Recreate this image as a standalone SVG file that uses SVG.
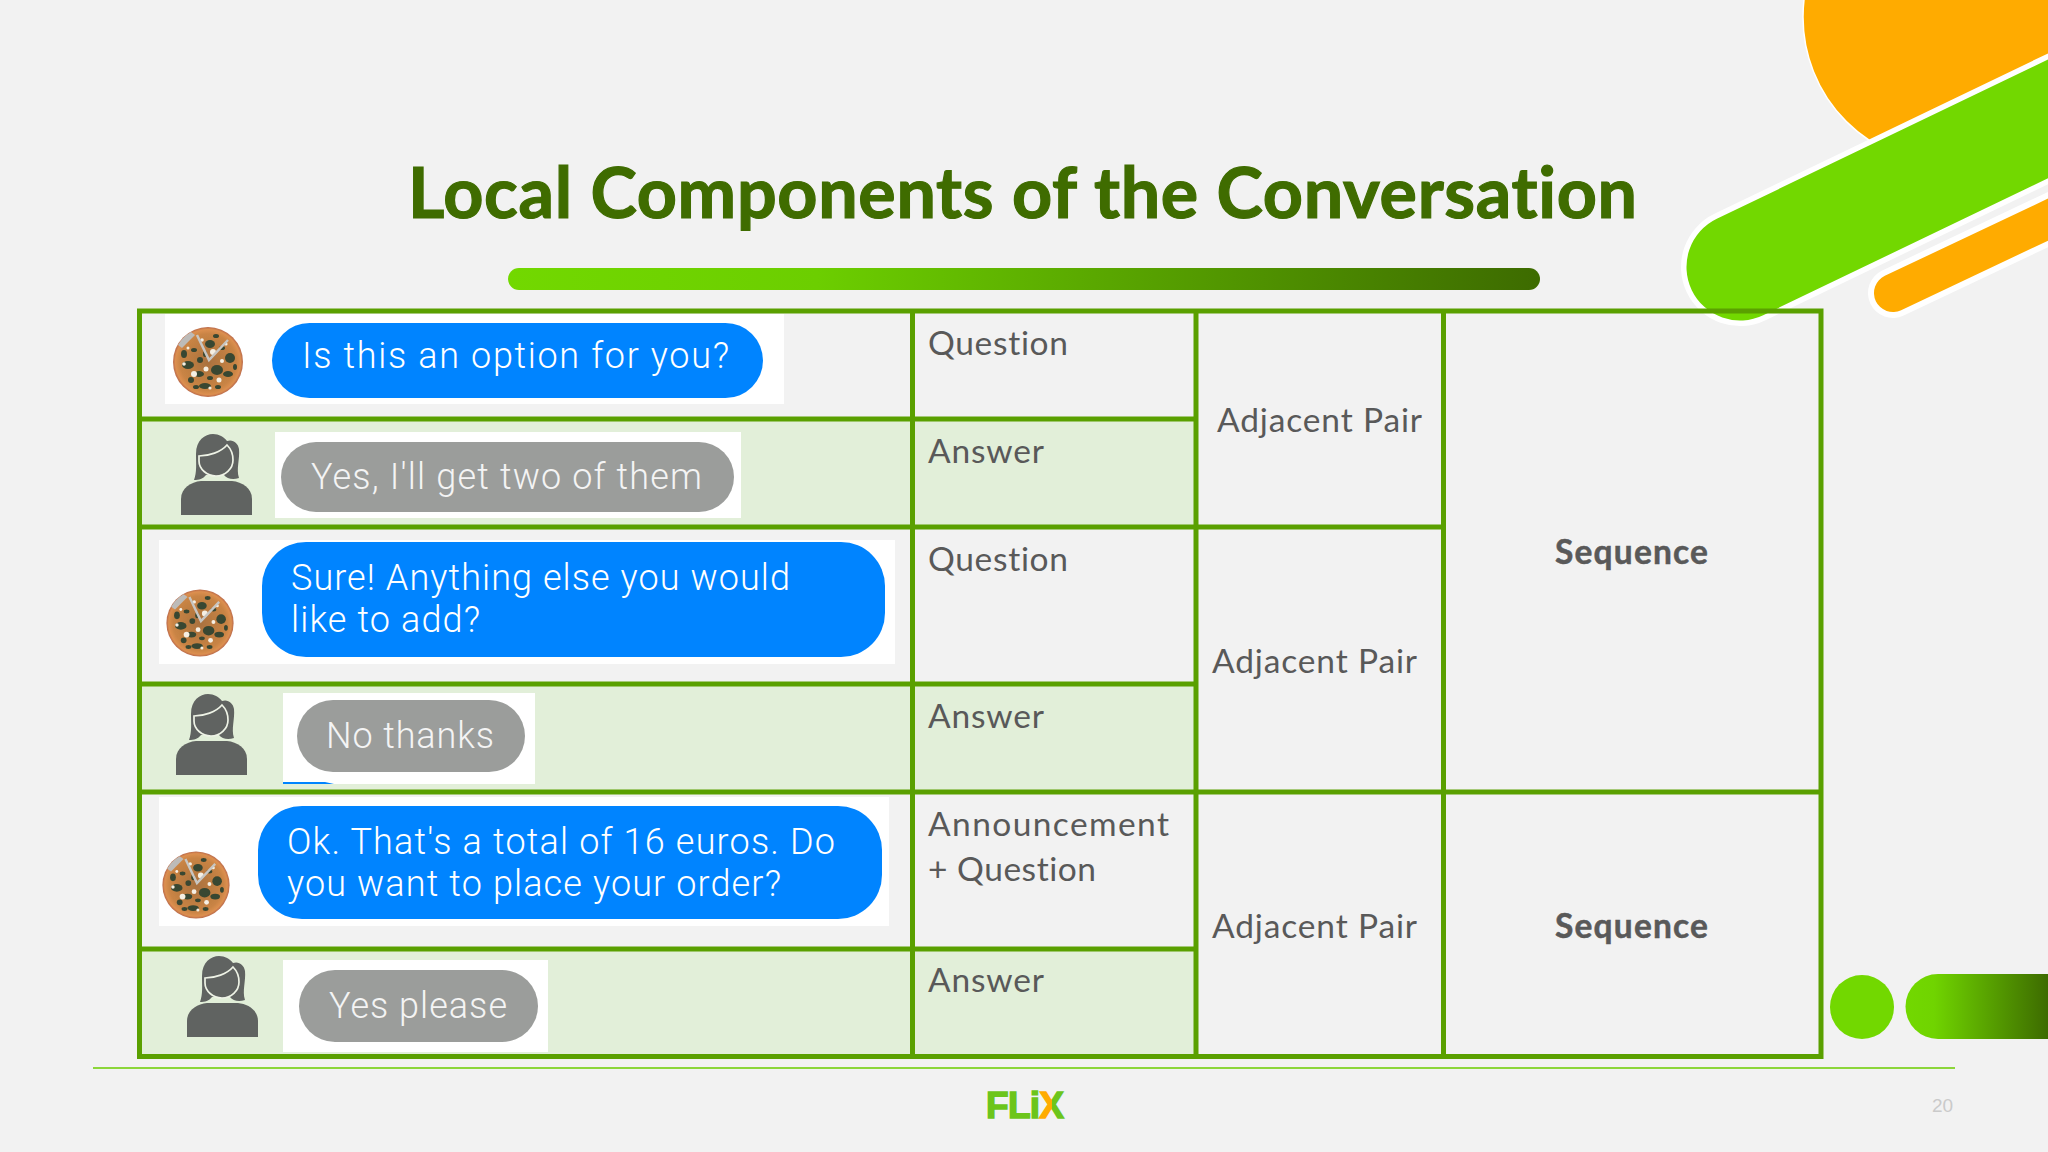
<svg xmlns="http://www.w3.org/2000/svg" xmlns:xlink="http://www.w3.org/1999/xlink" width="2048" height="1152" viewBox="0 0 2048 1152">
<style>
text{font-variant-ligatures:none}
.bg{fill:#f2f2f2}
.alt{fill:#e2efd9}
.grid{stroke:#5aa000;stroke-width:5;fill:none}
.white{fill:#fff}
.blue{fill:#0084ff}
.gray{fill:#9b9d9b}
.msg{font-family:Roboto,"Liberation Sans",sans-serif;font-weight:300;font-size:36px;fill:#fff}
.msgg{fill:#f4f4f4}
.cell{font-family:Lato,"Open Sans",sans-serif;font-size:33.500px;fill:#595959}
.seq{font-family:Lato,"Open Sans",sans-serif;font-weight:700;font-size:33.500px;fill:#595959;stroke:#595959;stroke-width:.5}
.title{font-family:Lato,"Open Sans",sans-serif;font-weight:700;font-size:70px;fill:#3f6c00;stroke:#3f6c00;stroke-width:1.200}
</style>
<defs>
<linearGradient id="barGrad" x1="0" x2="1" y1="0" y2="0"><stop offset="0" stop-color="#72d800"/><stop offset="0.3" stop-color="#6cce00"/><stop offset="1" stop-color="#3d6b00"/></linearGradient>
<linearGradient id="cornerGrad" x1="0" x2="1" y1="0" y2="0"><stop offset="0" stop-color="#72d800"/><stop offset="0.2" stop-color="#70d400"/><stop offset="1" stop-color="#3d6b00"/></linearGradient>
<linearGradient id="xGrad" gradientUnits="userSpaceOnUse" x1="1040" x2="1064" y1="0" y2="0"><stop offset="0.5" stop-color="#ffab00"/><stop offset="0.5" stop-color="#6cc51b"/></linearGradient>
<radialGradient id="pizzaGrad"><stop offset="0" stop-color="#a9713e"/><stop offset="0.8" stop-color="#c98444"/><stop offset="0.93" stop-color="#dc8f50"/><stop offset="1" stop-color="#b9694a"/></radialGradient>
<filter id="soft" x="-10%" y="-10%" width="120%" height="120%"><feGaussianBlur stdDeviation="0.6"/></filter>
<g id="pizza" filter="url(#soft)">
<circle r="35" fill="url(#pizzaGrad)"/>
<path d="M-30,-17 A35,35 0 0 1 -17,-30 L-13,-27 L-26,-14 Z" fill="#bdbbb8"/>
<g fill="#394730">
<ellipse cx="-20" cy="3" rx="6" ry="4"/><ellipse cx="-9" cy="12" rx="5" ry="3"/><ellipse cx="9" cy="8" rx="6" ry="5"/><ellipse cx="22" cy="-4" rx="5" ry="5"/><ellipse cx="20" cy="12" rx="5" ry="3"/><ellipse cx="-3" cy="24" rx="6" ry="3"/><ellipse cx="-17" cy="18" rx="3" ry="3"/><ellipse cx="2" cy="-18" rx="5" ry="4"/><ellipse cx="-24" cy="-8" rx="3" ry="4"/><ellipse cx="10" cy="25" rx="3" ry="2"/><ellipse cx="-8" cy="-2" rx="3" ry="3"/><ellipse cx="8" cy="-26" rx="3" ry="2"/><ellipse cx="14" cy="-14" rx="3" ry="2"/><ellipse cx="-3" cy="-8" rx="2" ry="3"/><ellipse cx="-12" cy="25" rx="3" ry="2"/><ellipse cx="27" cy="5" rx="2" ry="3"/><ellipse cx="2" cy="16" rx="3" ry="2"/><ellipse cx="-14" cy="-12" rx="3" ry="2"/>
</g>
<g fill="#f5efe3">
<circle cx="-14" cy="12" r="3"/><circle cx="5" cy="-10" r="3"/><circle cx="11" cy="18" r="2.500"/><circle cx="-2" cy="7" r="2.500"/><circle cx="14" cy="-1" r="2"/><circle cx="-24" cy="2" r="1.800"/><circle cx="-6" cy="-22" r="1.800"/><circle cx="18" cy="-18" r="1.600"/><circle cx="2" cy="26" r="1.600"/><circle cx="-20" cy="-14" r="1.500"/>
</g>
<path d="M-11,-27 L1,-2 L20,-22" fill="none" stroke="#c8c6c2" stroke-width="2.500"/>
</g>
<g id="person" fill="#606361">
<path d="M13,46 C16,38 15,30 15,20 C15,6 24,0 32,0 C38,0 43,3 46,7 C52,5 57,9 58,15 C59,25 55,35 58,44 C52,46 46,45 43,41 L25,41 C22,45 18,46 13,46 Z"/>
<path d="M18,22 C28,22 40,18 46,11 C50,15 52,20 52,26 C52,35 44,42 35,42 C26,42 18,35 18,27 Z" stroke="#eef3e6" stroke-width="1.700"/>
<path d="M0,81 L0,65 C0,54 10,48 20,47 L51,47 C61,48 71,54 71,65 L71,81 Z"/>
</g>
</defs>
<rect class="bg" width="2048" height="1152"/>
<g id="decoration">
<circle cx="1951" cy="17" r="148" fill="#ffab00" stroke="#fff" stroke-width="1.500"/>
<path d="M1740,267 L2148,70.800" stroke="#fff" stroke-width="118" stroke-linecap="round" fill="none"/>
<path d="M1740,267 L2148,70.800" stroke="#72d800" stroke-width="107" stroke-linecap="round" fill="none"/>
<path d="M1893,293 L2100,195" stroke="#fff" stroke-width="50" stroke-linecap="round" fill="none"/>
<path d="M1893,293 L2100,195" stroke="#ffab00" stroke-width="38" stroke-linecap="round" fill="none"/>
<circle cx="1862" cy="1007" r="32" fill="#72d800"/>
<path d="M2048,974 L1938,974 A32.500,32.500 0 0 0 1938,1039 L2048,1039 Z" fill="url(#cornerGrad)"/>
</g>
<g id="title">
<text class="title" x="408" y="218" textLength="1229">Local Components of the Conversation</text>
<rect x="508" y="268" width="1032" height="22" rx="11" fill="url(#barGrad)"/>
</g>
<g id="table-fills">
<rect class="alt" x="140" y="419" width="1056" height="108"/>
<rect class="alt" x="140" y="684" width="1056" height="108"/>
<rect class="alt" x="140" y="949" width="1056" height="108"/>
</g>
<g id="row-1">
<rect class="white" x="165" y="314" width="619" height="90"/>
<use xlink:href="#pizza" href="#pizza" transform="translate(208,362)"/>
<rect class="blue" x="272" y="323" width="491" height="75" rx="37.500"/>
<text class="msg" x="302" y="368" textLength="427">Is this an option for you?</text>
<text class="cell" x="928" y="355" textLength="140">Question</text>
</g>
<g id="row-2">
<rect class="white" x="275" y="432" width="466" height="86"/>
<use xlink:href="#person" href="#person" transform="translate(181,434)"/>
<rect class="gray" x="281" y="442" width="453" height="70" rx="35"/>
<text class="msg msgg" x="311" y="489" textLength="391">Yes, I'll get two of them</text>
<text class="cell" x="928" y="463" textLength="116">Answer</text>
</g>
<g id="row-3">
<rect class="white" x="159" y="540" width="736" height="124"/>
<use xlink:href="#pizza" href="#pizza" transform="translate(200,623) scale(.96)"/>
<rect class="blue" x="262" y="542" width="623" height="115" rx="44"/>
<text class="msg" x="291" y="590" textLength="499">Sure! Anything else you would</text>
<text class="msg" x="291" y="632" textLength="189">like to add?</text>
<text class="cell" x="928" y="571" textLength="140">Question</text>
</g>
<g id="row-4">
<rect class="white" x="283" y="693" width="252" height="91"/>
<path class="blue" d="M283,782 L325,782 L334,784 L283,784 Z"/>
<use xlink:href="#person" href="#person" transform="translate(176,694)"/>
<rect class="gray" x="297" y="700" width="228" height="72" rx="36"/>
<text class="msg msgg" x="326" y="748" textLength="168">No thanks</text>
<text class="cell" x="928" y="728" textLength="116">Answer</text>
</g>
<g id="row-5">
<rect class="white" x="159" y="797" width="730" height="129"/>
<use xlink:href="#pizza" href="#pizza" transform="translate(196,885) scale(.96)"/>
<rect class="blue" x="258" y="806" width="624" height="113" rx="44"/>
<text class="msg" x="287" y="854" textLength="548">Ok. That's a total of 16 euros. Do</text>
<text class="msg" x="287" y="896" textLength="494">you want to place your order?</text>
<text class="cell" x="928" y="836" textLength="241">Announcement</text>
<text class="cell" x="928" y="881" textLength="168">+ Question</text>
</g>
<g id="row-6">
<rect class="white" x="283" y="960" width="265" height="92"/>
<use xlink:href="#person" href="#person" transform="translate(187,956)"/>
<rect class="gray" x="299" y="970" width="239" height="72" rx="36"/>
<text class="msg msgg" x="329" y="1018" textLength="178">Yes please</text>
<text class="cell" x="928" y="992" textLength="116">Answer</text>
</g>
<g id="connectors">
<rect class="grid" x="139.500" y="311" width="1681.500" height="745.500"/>
<path class="grid" d="M912.500,311V1056.500M1196,311V1056.500M1443.500,311V1056.500M139.500,419H1196M139.500,527H1443.500M139.500,684H1196M139.500,792H1821M139.500,949H1196"/>
</g>
<g id="pair-labels">
<text class="cell" x="1217" y="432" textLength="205">Adjacent Pair</text>
<text class="cell" x="1212" y="673" textLength="205">Adjacent Pair</text>
<text class="cell" x="1212" y="938" textLength="205">Adjacent Pair</text>
<text class="seq" x="1555" y="564" textLength="153">Sequence</text>
<text class="seq" x="1555" y="938" textLength="153">Sequence</text>
</g>
<g id="footer">
<path d="M93,1068H1955" stroke="#8cd63a" stroke-width="2" fill="none"/>
<text x="986" y="1118" font-family="'Liberation Sans',sans-serif" font-weight="700" font-size="37" fill="#6cc51b" stroke="#6cc51b" stroke-width="1.500" textLength="78">FLi<tspan fill="url(#xGrad)" stroke="url(#xGrad)">X</tspan></text>
<text x="1932" y="1112" font-family="'Liberation Sans',sans-serif" font-size="19" fill="#cacaca">20</text>
</g>
</svg>
